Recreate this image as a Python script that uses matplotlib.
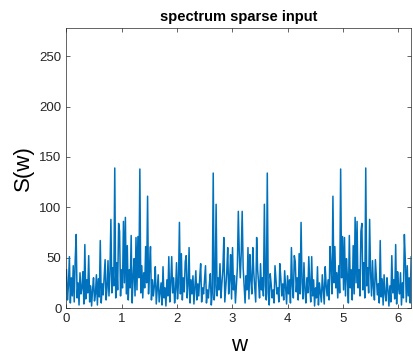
import numpy as np
import matplotlib.pyplot as plt

plt.rcParams['font.family'] = ['Liberation Sans', 'DejaVu Sans']

# spectrum values, w = 0 .. just under 2*pi
s_left = [
    38, 8, 22, 51, 5, 30, 12, 42, 6, 47, 73, 10, 25, 3, 35, 14, 20, 36, 4, 63,
    9, 28, 15, 52, 6, 22, 2, 18, 30, 7, 14, 33, 3, 29, 11, 67, 5, 24, 13, 30,
    48, 8, 20, 47, 12, 35, 88, 15, 40, 22, 139, 10, 45, 18, 84, 76, 12, 38, 20, 86,
    25, 90, 14, 62, 8, 38, 20, 72, 5, 30, 49, 12, 70, 18, 71, 30, 138, 15, 42, 10,
    35, 20, 61, 25, 111, 14, 40, 61, 8, 28, 12, 22, 41, 4, 18, 33, 6, 15, 25, 3,
    41, 10, 20, 2, 28, 12, 51, 6, 24, 51, 15, 30, 5, 18, 45, 9, 25, 85, 14, 54,
    8, 30, 16, 46, 52, 10, 22, 60, 5, 28, 14, 32, 4, 20, 37, 8, 24, 12, 30, 44,
    6, 20, 14, 28, 42, 5, 18, 10, 24, 34, 3, 15, 134, 8, 22, 103, 12, 30, 18, 44,
    10, 25, 38, 70, 6, 20, 35, 60, 14, 28, 53, 9, 60, 18, 32, 5, 22, 40, 96, 54,
]
s_mid = [30]
s_right = [
    54, 96, 40, 22, 5, 32, 18, 60, 9, 53, 28, 14, 60, 35, 20, 6, 70, 38, 25, 10,
    44, 18, 30, 12, 103, 22, 8, 134, 15, 3, 34, 24, 10, 18, 5, 42, 28, 14, 20, 6,
    44, 30, 12, 24, 8, 37, 20, 4, 32, 14, 28, 5, 60, 22, 10, 52, 46, 16, 30, 8,
    54, 14, 85, 25, 9, 45, 18, 5, 30, 15, 51, 24, 6, 51, 12, 28, 2, 20, 10, 41,
    3, 25, 15, 6, 33, 18, 4, 41, 22, 12, 28, 8, 61, 40, 14, 111, 25, 61, 20, 35,
    10, 42, 15, 138, 30, 71, 18, 70, 12, 49, 30, 5, 72, 20, 38, 8, 62, 14, 90, 25,
    86, 20, 38, 12, 76, 84, 18, 45, 10, 139, 22, 40, 15, 88, 35, 12, 47, 20, 8, 48,
    30, 13, 24, 5, 67, 11, 29, 3, 33, 14, 7, 30, 18, 2, 22, 6, 52, 15, 28, 9,
    63, 4, 36, 20, 14, 35, 3, 25, 10, 73, 47, 6, 42, 12, 30, 5, 51, 22, 8,
]

S = np.array(s_left + s_mid + s_right, dtype=float)
w = np.arange(len(S)) * 2 * np.pi / len(S)

fig = plt.figure(figsize=(4.13, 3.59), dpi=100)
ax = fig.add_axes([0.161, 0.142, 0.835, 0.780])
ax.plot(w, S, color='#0072BD', lw=1.1)

ax.set_xlim(0, 6.235)
ax.set_ylim(0, 278)
ax.set_xticks(range(0, 7))
ax.set_yticks(range(0, 251, 50))
ax.tick_params(direction='in', length=3, width=0.5, top=True, right=True,
               labelsize=9.5, colors='#262626')
for sp in ax.spines.values():
    sp.set_color('#262626')
    sp.set_linewidth(0.5)

ax.set_title('spectrum sparse input', fontsize=10.5, fontweight='bold', pad=5)
ax.set_xlabel('w', fontsize=16, labelpad=7)
ax.set_ylabel('S(w)', fontsize=16, labelpad=4)

fig.savefig('out.png', dpi=100)
